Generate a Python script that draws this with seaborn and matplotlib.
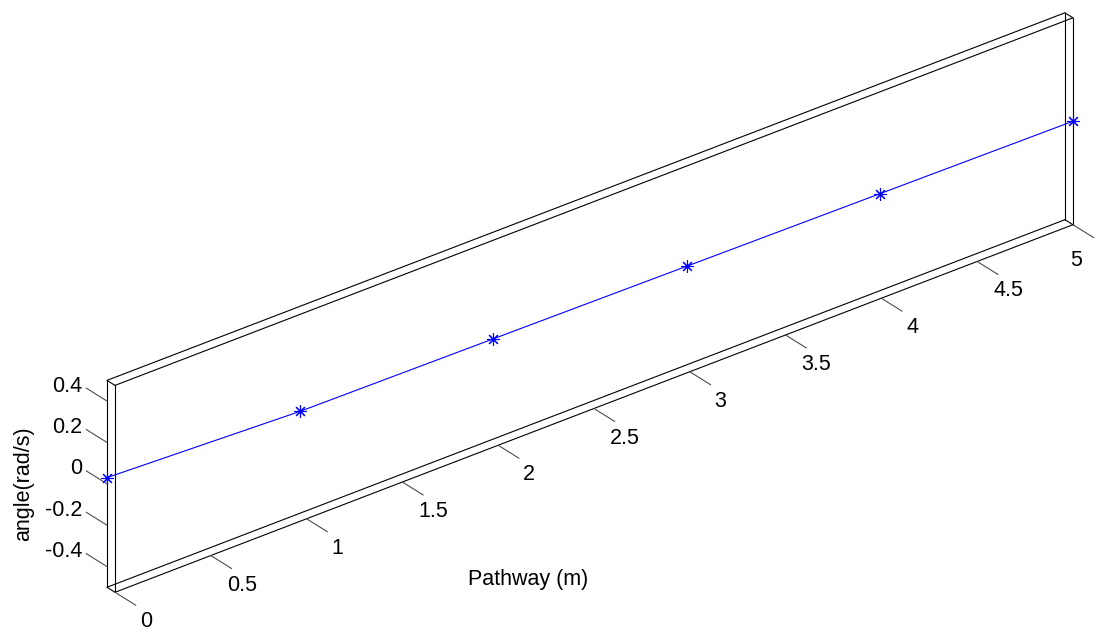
import numpy as np
import matplotlib
matplotlib.use("Agg")
import matplotlib.pyplot as plt
import seaborn as sns
from mpl_toolkits.mplot3d import proj3d

# --- data ---
pathway = [0, 1, 2, 3, 4, 5]                 # m
angle = [0.03, 0.0, 0.0, 0.0, 0.0, 0.0]      # rad/s
depth = [1.0, 0.8, 0.6, 0.4, 0.2, 0.0]       # the line crosses the thin box
x_ticks = [0, 0.5, 1, 1.5, 2, 2.5, 3, 3.5, 4, 4.5, 5]
z_ticks = [-0.4, -0.2, 0, 0.2, 0.4]

sns.set_theme(style="white")
plt.rcParams['font.family'] = ['Liberation Sans', 'DejaVu Sans']
plt.rcParams['text.color'] = 'black'
FS = 15.5

fig = plt.figure(figsize=(11.1, 6.31), dpi=100)
ax = fig.add_axes([-0.0255, -0.4593, 1.0847, 1.9081], projection='3d',
                  proj_type='ortho')
ax.set_box_aspect((1218, 13, 237.4))
ax.view_init(elev=29.3, azim=-128.1)
ax.set_xlim(0, 5)
ax.set_ylim(0, 1)
ax.set_zlim(-0.5, 0.5)
ax.set_axis_off()
ax.computed_zorder = False

x0, x1 = ax.get_xlim()
y0, y1 = ax.get_ylim()
z0, z1 = ax.get_zlim()

# box: all 12 edges like matlab's "box on"
edge = dict(color='black', lw=0.8, zorder=1)
for y in (y0, y1):
    for z in (z0, z1):
        ax.plot([x0, x1], [y, y], [z, z], **edge)
for x in (x0, x1):
    for z in (z0, z1):
        ax.plot([x, x], [y0, y1], [z, z], **edge)
for x in (x0, x1):
    for y in (y0, y1):
        ax.plot([x, x], [y, y], [z0, z1], **edge)

# ticks drawn along the depth direction, outside the box
tick = dict(color='#4d4d4d', lw=0.8, zorder=1)
for t in x_ticks:
    ax.plot([t, t], [y0, y0 - 2.6], [z0, z0], **tick)
for t in z_ticks:
    ax.plot([x0, x0], [y1, y1 + 2.6], [t, t], **tick)

ax.plot(pathway, depth, angle, color='#0000ff', lw=0.8,
        marker=(8, 2, 0), ms=9, mew=0.8, zorder=3)

# tick labels as plain 2D text at the projected tick ends
fig.canvas.draw()
M = ax.get_proj()
for i, t in enumerate(x_ticks):
    sx, sy, _ = proj3d.proj_transform(t, y0 - 2.6, z0, M)
    # matlab pulls the last label back inside the figure
    off = (10, -6) if i < len(x_ticks) - 1 else (-18, -12)
    ax.annotate(f"{t:g}", (sx, sy), xytext=off, textcoords='offset pixels',
                ha='center', va='top', fontsize=FS)
for t in z_ticks:
    sx, sy, _ = proj3d.proj_transform(x0, y1 + 2.6, t, M)
    ax.annotate(f"{t:g}", (sx, sy), xytext=(-4, 2), textcoords='offset pixels',
                ha='right', va='center', fontsize=FS)

fig.text(528 / 1110, 1 - 580 / 631, 'Pathway (m)', ha='center', va='center',
         fontsize=FS)
fig.text(24 / 1110, 1 - 484 / 631, 'angle(rad/s)', ha='center', va='center',
         rotation=90, fontsize=FS)

fig.savefig('out.png', dpi=100)
